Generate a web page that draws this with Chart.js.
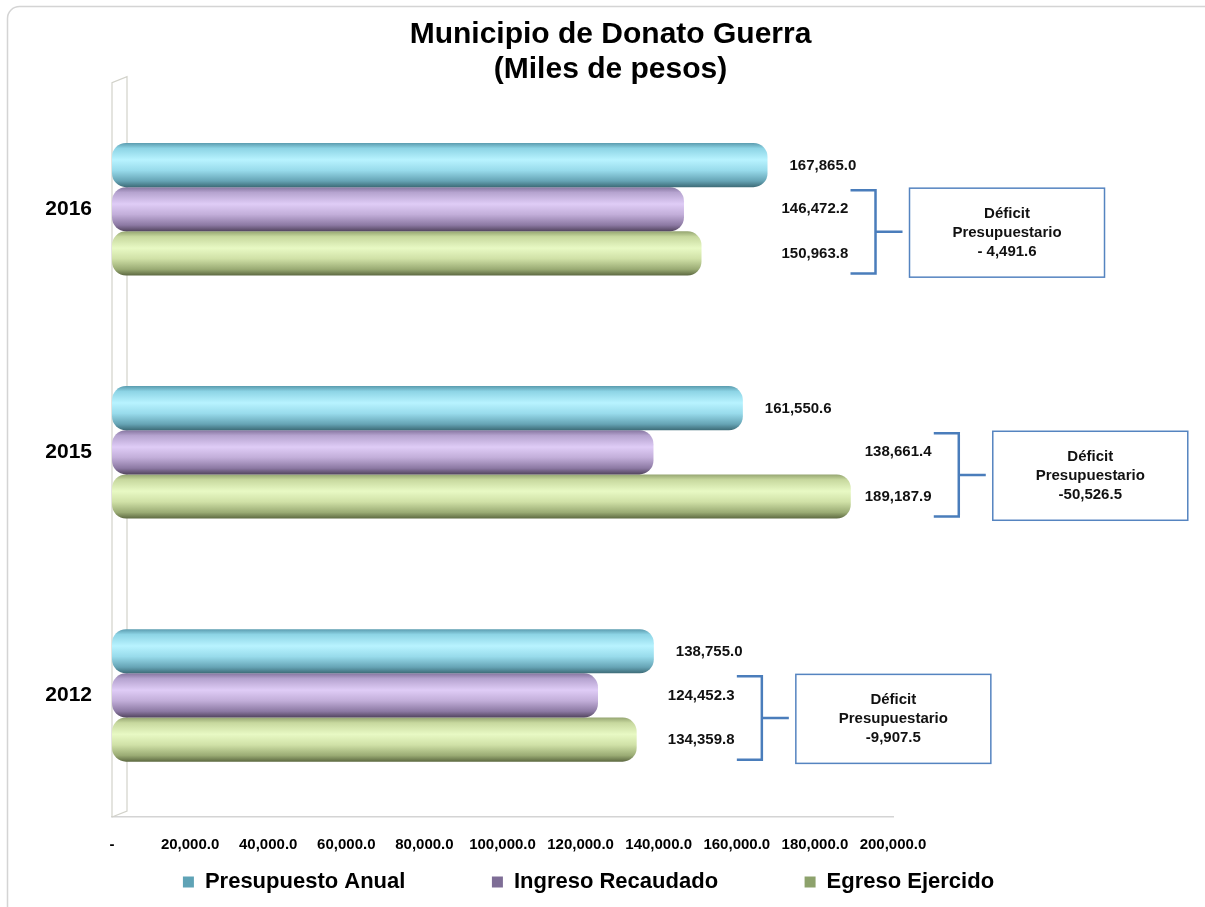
<!DOCTYPE html>
<html>
<head>
<meta charset="utf-8">
<script src="https://cdn.jsdelivr.net/npm/chart.js@4.4.1/dist/chart.umd.min.js"></script>
<style>
  html, body { margin: 0; padding: 0; background: #ffffff; }
  #wrap { width: 1205px; height: 907px; }
</style>
</head>
<body>
<div id="wrap"><canvas id="c" width="1205" height="907"></canvas></div>
<script>
// ---- data ----
const categories = ['2016', '2015', '2012'];
const seriesNames = ['Presupuesto Anual', 'Ingreso Recaudado', 'Egreso Ejercido'];
const presupuestoAnual = [167865.0, 161550.6, 138755.0];
const ingresoRecaudado = [146472.2, 138661.4, 124452.3];
const egresoEjercido = [150963.8, 189187.9, 134359.8];
const deficitLabels = ['- 4,491.6', '-50,526.5', '-9,907.5'];
const deficitTitle = ['Déficit', 'Presupuestario'];
const titleLines = ['Municipio de Donato Guerra', '(Miles de pesos)'];
const xMin = 0, xMax = 200000, xStep = 20000;

// ---- styling ----
const FONT = "'Liberation Sans', Arial, Helvetica, sans-serif";
const CAT_PCT = 0.545;
const gradStops = [
  [[0, '#5b9caf'], [0.12, '#8dd4e5'], [0.38, '#b8f3ff'], [0.62, '#98dbeb'], [0.86, '#66a4b5'], [1, '#3d6b77']],
  [[0, '#8676a0'], [0.12, '#b5a3cf'], [0.38, '#dfccf6'], [0.62, '#c2aed9'], [0.86, '#8c79a3'], [1, '#52445e']],
  [[0, '#95a571'], [0.12, '#c7d89e'], [0.38, '#e8f9c4'], [0.62, '#d0e1a7'], [0.86, '#9aab74'], [1, '#5d6941']]
];
const legendColors = ['#5fa3b6', '#7e6d96', '#8da26c'];

function fmt(v) {
  return v.toLocaleString('en-US', { minimumFractionDigits: 1, maximumFractionDigits: 1 });
}

function cylinder(stops) {
  return (ctx) => {
    const chart = ctx.chart;
    const ys = chart.scales && chart.scales.y;
    if (!ys || ctx.type !== 'data') return stops[2][1];
    const p0 = ys.getPixelForValue(0), p1 = ys.getPixelForValue(1);
    const catW = Math.abs(p1 - p0);
    const bh = catW * CAT_PCT / 3;
    const top = ys.getPixelForValue(ctx.dataIndex) - 1.5 * bh + ctx.datasetIndex * bh;
    if (!isFinite(top) || !isFinite(bh) || bh <= 0) return stops[2][1];
    const g = chart.ctx.createLinearGradient(0, top, 0, top + bh);
    stops.forEach(([o, c]) => g.addColorStop(o, c));
    return g;
  };
}

const seriesValues = [presupuestoAnual, ingresoRecaudado, egresoEjercido];

const datasets = seriesValues.map((vals, i) => ({
  label: seriesNames[i],
  data: vals,
  backgroundColor: cylinder(gradStops[i]),
  borderWidth: 0,
  borderRadius: 14,
  borderSkipped: false,
  barPercentage: 1.0,
  categoryPercentage: CAT_PCT,
  xAxisID: 'x',
  yAxisID: 'y'
}));

const framePlugin = {
  id: 'frame',
  beforeDraw(chart) {
    const c = chart.ctx;
    c.save();
    c.fillStyle = '#ffffff';
    c.fillRect(0, 0, chart.width, chart.height);
    c.strokeStyle = '#d4d4d4';
    c.lineWidth = 1.5;
    c.beginPath();
    c.roundRect(7.5, 6.5, chart.width + 20, chart.height + 20, 12);
    c.stroke();
    c.restore();
  },
  beforeDatasetsDraw(chart) {
    const c = chart.ctx, ca = chart.chartArea, xs = chart.scales.x;
    const x0 = xs.getPixelForValue(0);
    c.save();
    c.strokeStyle = '#d2d2ca';
    c.lineWidth = 1.2;
    c.beginPath();
    c.moveTo(x0, ca.bottom);
    c.lineTo(x0, ca.top - 5);
    c.lineTo(x0 + 15, ca.top - 11);
    c.lineTo(x0 + 15, ca.bottom - 6);
    c.lineTo(x0, ca.bottom);
    c.stroke();
    c.restore();
  }
};

const annotPlugin = {
  id: 'annot',
  afterDatasetsDraw(chart) {
    const c = chart.ctx, xs = chart.scales.x;
    const metas = [0, 1, 2].map(i => chart.getDatasetMeta(i));
    c.save();
    c.fillStyle = '#111111';
    c.font = 'bold 15px ' + FONT;
    c.textBaseline = 'middle';
    c.textAlign = 'left';
    categories.forEach((cat, j) => {
      const maxV = Math.max(presupuestoAnual[j], ingresoRecaudado[j], egresoEjercido[j]);
      const b0 = metas[0].data[j], b1 = metas[1].data[j], b2 = metas[2].data[j];
      const bh = b1.height;
      // value labels
      c.fillText(fmt(presupuestoAnual[j]), xs.getPixelForValue(presupuestoAnual[j]) + 22, b0.y + 1);
      const lx = xs.getPixelForValue(maxV) + 14;
      c.fillText(fmt(ingresoRecaudado[j]), lx, b1.y);
      c.fillText(fmt(egresoEjercido[j]), lx, b2.y);
      // bracket
      const bx = xs.getPixelForValue(maxV) + 108;
      const top = b1.y - bh / 2 + 3;
      const bot = b2.y + bh / 2 - 2;
      const mid = (top + bot) / 2;
      c.strokeStyle = '#4a7dbb';
      c.lineWidth = 2.5;
      c.beginPath();
      c.moveTo(bx - 25, top); c.lineTo(bx, top); c.lineTo(bx, bot); c.lineTo(bx - 25, bot);
      c.moveTo(bx, mid); c.lineTo(bx + 27, mid);
      c.stroke();
      // box
      const boxL = bx + 34, boxT = b1.y - bh / 2 + 1, boxW = 195, boxH = 89;
      c.strokeStyle = '#5584c0';
      c.lineWidth = 1.5;
      c.strokeRect(boxL, boxT, boxW, boxH);
      c.textAlign = 'center';
      const cy = boxT + boxH / 2;
      const lines = [deficitTitle[0], deficitTitle[1], deficitLabels[j]];
      lines.forEach((t, k) => c.fillText(t, boxL + boxW / 2, cy + (k - 1) * 19));
      c.textAlign = 'left';
    });
    c.restore();
  }
};

Chart.defaults.font.family = FONT;

new Chart(document.getElementById('c'), {
  type: 'bar',
  data: { labels: categories, datasets },
  plugins: [framePlugin, annotPlugin],
  options: {
    indexAxis: 'y',
    responsive: false,
    animation: false,
    devicePixelRatio: 1,
    layout: { padding: { left: 16, right: 0, top: 0, bottom: 4 } },
    scales: {
      x: {
        type: 'linear',
        position: 'bottom',
        min: xMin, max: xMax,
        grid: { display: false },
        border: { display: true, color: '#d4d4d4', width: 1.5 },
        ticks: {
          stepSize: xStep,
          padding: 11,
          color: '#000',
          font: { size: 15, weight: 'bold' },
          callback: (v) => v === 0 ? '-' : fmt(v)
        },
        afterFit(s) { s.height = 44; }
      },
      y: {
        type: 'category',
        position: 'left',
        grid: { display: false },
        border: { display: false },
        ticks: { color: '#000', padding: 12, font: { size: 21, weight: 'bold' } },
        afterFit(s) { s.width = 96; }
      },
      yRight: {
        type: 'linear',
        axis: 'y',
        position: 'right',
        grid: { display: false },
        border: { display: false },
        ticks: { display: false },
        afterFit(s) { s.width = 312; }
      }
    },
    plugins: {
      title: {
        display: true,
        text: titleLines,
        color: '#000',
        font: { size: 30, weight: 'bold', lineHeight: 1.17 },
        padding: { top: 17.5, bottom: 0 }
      },
      legend: {
        position: 'bottom',
        align: 'center',
        labels: {
          boxWidth: 11,
          boxHeight: 11,
          padding: 10,
          color: '#000',
          font: { size: 22, weight: 'bold' },
          generateLabels: () => seriesNames.map((n, i) => ({
            text: n + (i < 2 ? '\u2003\u2003\u2003\u2009 ' : '\u2003\u2003'),
            fillStyle: legendColors[i],
            strokeStyle: legendColors[i],
            lineWidth: 0,
            hidden: false,
            datasetIndex: i
          }))
        }
      },
      tooltip: { enabled: false }
    }
  }
});
</script>
</body>
</html>
